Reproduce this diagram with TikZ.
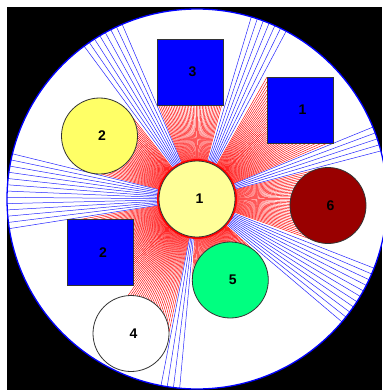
\documentclass[tikz,border=0pt]{standalone}
\usepackage{fontspec}
\setmainfont{Liberation Sans}
\definecolor{paleyellow}{RGB}{255,255,153}
\definecolor{ylw}{RGB}{255,255,102}
\definecolor{darkred}{RGB}{153,0,0}
\definecolor{springg}{RGB}{0,255,128}
\definecolor{sqblue}{RGB}{0,0,255}
\newcommand\rcHitCircle[3]{%
  \pgfmathsetmacro\rcDx{#1-19.7}%
  \pgfmathsetmacro\rcDy{#2-19.9}%
  \pgfmathsetmacro\rcB{\rcDx*\ux+\rcDy*\uy}%
  \pgfmathsetmacro\rcDisc{\rcB*\rcB-(\rcDx*\rcDx+\rcDy*\rcDy)+#3*#3}%
  \pgfmathparse{(\rcDisc>0)&&(\rcB>0)}%
  \ifdim\pgfmathresult pt>0.5pt
    \pgfmathsetmacro\rcT{\rcB-sqrt(\rcDisc)}%
    \pgfmathparse{\rcT<\tbest}%
    \ifdim\pgfmathresult pt>0.5pt \global\let\tbest\rcT \gdef\hit{1}\fi
  \fi}
\newcommand\rcHitBox[4]{%
  \pgfmathsetmacro\rcUx{ifthenelse(abs(\ux)<0.02,ifthenelse(\ux<0,-0.02,0.02),\ux)}%
  \pgfmathsetmacro\rcUy{ifthenelse(abs(\uy)<0.02,ifthenelse(\uy<0,-0.02,0.02),\uy)}%
  \pgfmathsetmacro\rcXa{(#1-19.7)/\rcUx}%
  \pgfmathsetmacro\rcXb{(#3-19.7)/\rcUx}%
  \pgfmathsetmacro\rcYa{(#2-19.9)/\rcUy}%
  \pgfmathsetmacro\rcYb{(#4-19.9)/\rcUy}%
  \pgfmathsetmacro\rcIn{max(min(\rcXa,\rcXb),min(\rcYa,\rcYb))}%
  \pgfmathsetmacro\rcOut{min(max(\rcXa,\rcXb),max(\rcYa,\rcYb))}%
  \pgfmathparse{(\rcIn<\rcOut)&&(\rcIn>0)&&(\rcIn<\tbest)}%
  \ifdim\pgfmathresult pt>0.5pt \global\let\tbest\rcIn \gdef\hit{1}\fi}
\begin{document}
\begin{tikzpicture}[x=10pt,y=-10pt,
  obst/.style={draw=black!80, line width=0.8pt, inner sep=0pt},
  roundobst/.style={obst, circle, minimum size=76pt},
  sqobst/.style={obst, rectangle, fill=sqblue, minimum size=66pt},
  lab/.style={font=\bfseries\fontsize{14}{14}\selectfont, text=black, inner sep=0pt},
  redray/.style={draw=red, line width=0.45pt},
  blueray/.style={draw=blue!85, line width=0.5pt}]
\useasboundingbox (0,0) rectangle (38.2,39.0);
\fill[white] (0,0) rectangle (38.2,39.0);
\fill[black] (0.7,0.75) rectangle (38.2,39.0);
\coordinate (C) at (19.7,19.9);
\fill[white] (C) circle[radius=19.0];
% rays
\foreach \k in {0,...,379}{
  \pgfmathsetmacro\ang{0.5+\k*0.947368}
  \pgfmathsetmacro\ux{cos(\ang)}
  \pgfmathsetmacro\uy{sin(\ang)}
  \gdef\tbest{19.0}\gdef\hit{0}
  \rcHitCircle{9.95}{13.6}{3.8}
  \rcHitCircle{32.8}{20.55}{3.8}
  \rcHitCircle{23.03}{28.0}{3.8}
  \rcHitCircle{13.1}{33.35}{3.8}
  \rcHitBox{15.7}{3.9}{22.3}{10.5}
  \rcHitBox{26.7}{7.7}{33.3}{14.3}
  \rcHitBox{6.75}{21.95}{13.35}{28.55}
  \pgfmathsetmacro\ex{19.7+\tbest*\ux}
  \pgfmathsetmacro\ey{19.9+\tbest*\uy}
  \ifnum\hit=1 \draw[redray] (C) -- (\ex,\ey);
  \else \ifodd\k\else \draw[blueray] (C) -- (\ex,\ey);\fi \fi
}
% obstacles
\node[sqobst] (s3) at (19.0,7.2) {};
\node[sqobst] (s1) at (30.0,11.0) {};
\node[sqobst] (s2) at (10.05,25.25) {};
\node[roundobst, fill=ylw] (c2) at (9.95,13.6) {};
\node[roundobst, fill=darkred] (c6) at (32.8,20.55) {};
\node[roundobst, fill=springg] (c5) at (23.03,28.0) {};
\node[roundobst, fill=white] (c4) at (13.1,33.35) {};
\draw[red, line width=2pt] (C) circle[radius=3.9];
\node[roundobst, fill=paleyellow] (c1) at (C) {};
\node[lab] (l3) at ([xshift=2.5pt]s3.center) {3};
\node[lab] (l1s) at ([xshift=2.5pt]s1.center) {1};
\node[lab] (l2s) at ([xshift=2.5pt]s2.center) {2};
\node[lab] (l2) at ([xshift=2.5pt]c2.center) {2};
\node[lab] (l6) at ([xshift=2.5pt]c6.center) {6};
\node[lab] (l5) at ([xshift=2.5pt]c5.center) {5};
\node[lab] (l4) at ([xshift=2.5pt]c4.center) {4};
\node[lab] (l1) at ([xshift=2.5pt]c1.center) {1};
\draw[sqblue, line width=1.3pt] (C) circle[radius=19.0];
\end{tikzpicture}
\end{document}
